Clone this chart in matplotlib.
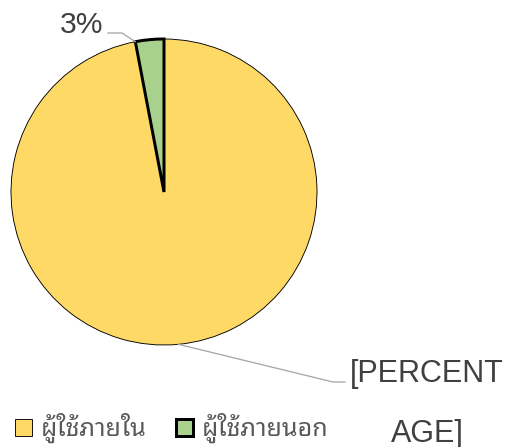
import matplotlib
matplotlib.use('agg')
import matplotlib.pyplot as plt
from matplotlib.lines import Line2D
import numpy as np

# data
groups = ['ผู้ใช้ภายใน', 'ผู้ใช้ภายนอก']
shares = [97, 3]
slice_labels = ['[PERCENT\nAGE]', '3%']
colors = ['#FFD966', '#A9D18E']

W, H = 510, 447
fig = plt.figure(figsize=(W / 72, H / 72), dpi=72)

cx, cy, r = 164, 255, 153   # pie centre in figure pixels (from bottom)
ax = fig.add_axes([(cx - r) / W, (cy - r) / H, 2 * r / W, 2 * r / H])
wedges, _ = ax.pie(shares, colors=colors, startangle=90, counterclock=False,
                   radius=1, wedgeprops=dict(edgecolor='black'))
wedges[0].set_linewidth(0.9)
wedges[1].set_linewidth(3)
for w in wedges:
    w.set_clip_on(False)
    w.set_joinstyle('miter')
ax.set_xlim(-1, 1)
ax.set_ylim(-1, 1)

lab_font = ['Liberation Sans', 'DejaVu Sans']
thai_font = ['Noto Sans Thai Looped', 'DejaVu Sans']
grey = '#404040'
lead = '#A6A6A6'

def anchor(theta):
    t = np.deg2rad(theta)
    return ax.transData.transform((np.cos(t), np.sin(t)))

# leader + label for the big slice
w0 = wedges[0]
p0 = anchor((w0.theta1 + w0.theta2) / 2)
fig.add_artist(Line2D([p0[0], 333, 345], [p0[1], 65, 65], color=lead, lw=1.3,
                      transform=None))
for i, line in enumerate(slice_labels[0].split('\n')):
    fig.text(427 / W, (65 - i * 60) / H, line, ha='center', va='baseline',
             fontsize=30.5, color=grey, family=lab_font)

# leader + label for the small slice
w1 = wedges[1]
p1 = anchor(w1.theta2)
fig.add_artist(Line2D([108, 122, p1[0]], [414, 414, p1[1]], color=lead, lw=1.3,
                      transform=None))
fig.text(103 / W, 414 / H, slice_labels[1], ha='right', va='baseline',
         fontsize=30, color=grey, family=lab_font)

fig.legend(wedges, groups, loc='center left', bbox_to_anchor=(15 / W, 19 / H),
           ncol=2, frameon=False, prop={'family': thai_font, 'size': 25},
           handlelength=0.66, handleheight=0.66, handletextpad=0.36,
           columnspacing=1.2, borderpad=0, borderaxespad=0, labelcolor='#595959')

fig.savefig('out.png')
